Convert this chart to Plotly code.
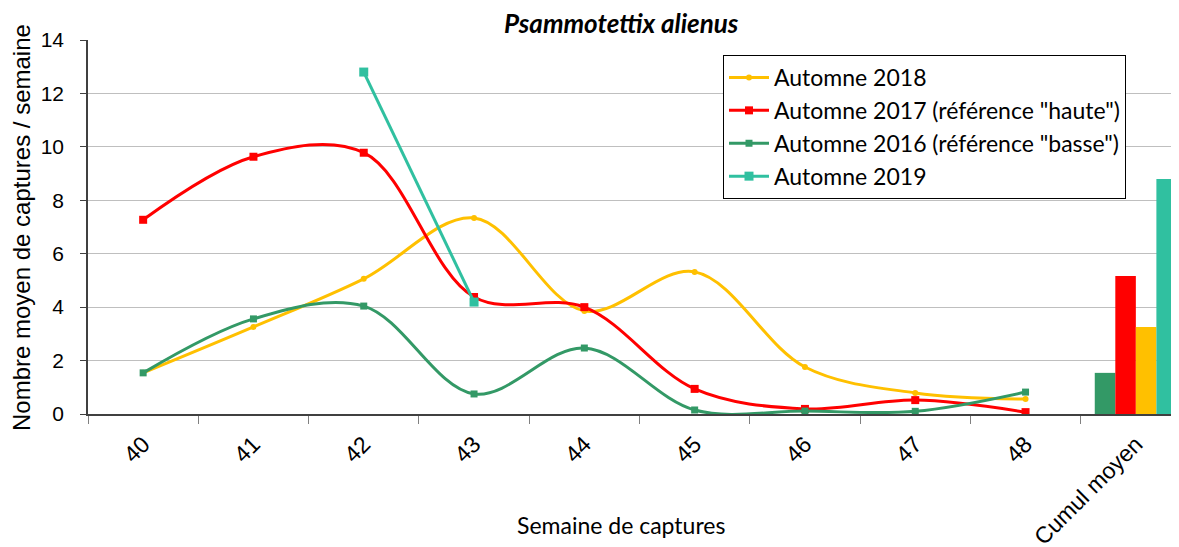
import plotly.graph_objects as go

categories = ["40", "41", "42", "43", "44", "45", "46", "47", "48", "Cumul moyen"]
weeks = ["40", "41", "42", "43", "44", "45", "46", "47", "48"]

a2018 = [1.54, 3.26, 5.06, 7.34, 3.86, 5.32, 1.76, 0.79, 0.56]
a2017 = [7.27, 9.63, 9.78, 4.38, 4.0, 0.94, 0.19, 0.52, 0.07]
a2016 = [1.54, 3.56, 4.04, 0.75, 2.47, 0.15, 0.11, 0.10, 0.82]
a2019 = [None, None, 12.8, 4.19, None, None, None, None, None]

cumul_labels = ["Automne 2016", "Automne 2017", "Automne 2018", "Automne 2019"]
cumul_values = [1.54, 5.17, 3.26, 8.8]

YELLOW = "#FFC000"
RED = "#FF0000"
GREEN = "#339966"
TEAL = "#30C0A0"

# page body has an 8px margin, so the figure is drawn 8px smaller and offset
OFF = 8
FW, FH = 1179 - OFF, 547 - OFF
L, T, B = 88 - OFF, 40 - OFF, 414 - OFF
W = FW - L
H = B - T

fig = go.Figure()

fig.add_trace(go.Scatter(x=weeks, y=a2018, mode="lines+markers", name="Automne 2018",
                         line=dict(color=YELLOW, width=3, shape="spline", smoothing=1),
                         marker=dict(symbol="circle", size=6, color=YELLOW),
                         legendgroup="g1"))
fig.add_trace(go.Scatter(x=weeks, y=a2017, mode="lines+markers", name='Automne 2017 (référence "haute")',
                         line=dict(color=RED, width=3, shape="spline", smoothing=1),
                         marker=dict(symbol="square", size=8, color=RED),
                         legendgroup="g2"))
fig.add_trace(go.Scatter(x=weeks, y=a2016, mode="lines+markers", name='Automne 2016 (référence "basse")',
                         line=dict(color=GREEN, width=3, shape="spline", smoothing=1),
                         marker=dict(symbol="square", size=7, color=GREEN),
                         legendgroup="g3"))
fig.add_trace(go.Scatter(x=weeks, y=a2019, mode="lines+markers", name="Automne 2019",
                         line=dict(color=TEAL, width=3),
                         marker=dict(symbol="square", size=9, color=TEAL),
                         connectgaps=False, legendgroup="g4"))

bar_colors = [GREEN, RED, YELLOW, TEAL]
for lab, val, col in zip(cumul_labels, cumul_values, bar_colors):
    fig.add_trace(go.Bar(x=[categories[-1]], y=[val], name=lab,
                         marker=dict(color=col, line=dict(width=0)),
                         showlegend=False))

fig.update_layout(
    width=FW, height=FH,
    paper_bgcolor="white", plot_bgcolor="white",
    margin=dict(l=L, r=0, t=T, b=FH - B, autoexpand=False),
    barmode="group", bargap=0.255, bargroupgap=0,
    showlegend=True,
    legend=dict(x=(723 - OFF - L) / W, y=(B - (55 - OFF)) / H, xanchor="left", yanchor="top",
                bordercolor="black", borderwidth=1, bgcolor="white",
                font=dict(family="Lato", size=23, color="black"),
                tracegroupgap=15, traceorder="normal", itemwidth=40),
    font=dict(family="Liberation Sans", color="black"),
)

fig.update_xaxes(
    type="category", categoryorder="array", categoryarray=categories,
    range=[-0.5, -0.5 + W / 110.3],
    tickangle=-45, tickfont=dict(family="Liberation Sans", size=23, color="black"),
    ticklabelstandoff=6,
    showline=True, linecolor="#404040", linewidth=1.5,
    ticks="outside", ticklen=8, tickcolor="#808080", tickson="boundaries",
    showgrid=False, zeroline=False, automargin=False,
)
fig.update_yaxes(
    range=[0, 14], dtick=2,
    tickfont=dict(family="Liberation Sans", size=21, color="black"),
    ticklabelstandoff=12,
    showline=True, linecolor="#404040", linewidth=1.5,
    ticks="outside", ticklen=6, tickcolor="#404040",
    showgrid=True, gridcolor="#BFBFBF", gridwidth=1.2,
    zeroline=False, automargin=False,
)

def px_x(x):
    return (x - OFF - L) / W

def px_y(y):
    return (B - (y - OFF)) / H

fig.add_annotation(text="<b><i>Psammotettix alienus</i></b>", xref="paper", yref="paper",
                   x=px_x(621), y=px_y(23), xanchor="center", yanchor="middle",
                   showarrow=False, font=dict(family="Lato", size=26, color="black"))
fig.add_annotation(text="Semaine de captures", xref="paper", yref="paper",
                   x=px_x(621), y=px_y(525), xanchor="center", yanchor="middle",
                   showarrow=False, font=dict(family="Lato", size=23, color="black"))
fig.add_annotation(text="Nombre moyen de captures / semaine", xref="paper", yref="paper",
                   x=px_x(21), y=px_y(228), xanchor="center", yanchor="middle",
                   textangle=-90, showarrow=False,
                   font=dict(family="Liberation Sans", size=24, color="black"))

fig.write_html("out.html")
